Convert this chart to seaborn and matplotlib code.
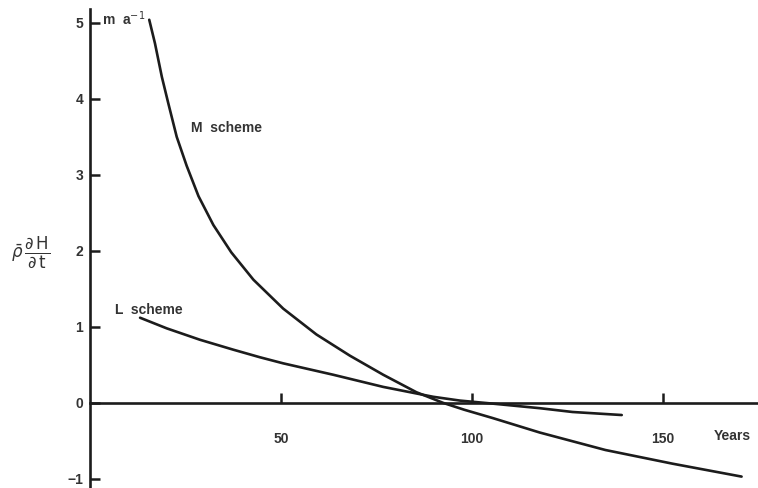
import matplotlib
matplotlib.use("Agg")
import matplotlib.pyplot as plt
import seaborn as sns
import pandas as pd

# Data
m_years = [15.5, 17.0, 18.8, 20.5, 22.7, 25.3, 28.4, 32.3, 37.0, 42.8, 50.6, 59.3, 68.1, 76.8, 85.5, 92.5,
           98.0, 105.5, 117.8, 135.0, 152.6, 170.7]
m_rate = [5.04, 4.73, 4.29, 3.94, 3.50, 3.12, 2.72, 2.34, 1.98, 1.62, 1.24, 0.90, 0.62, 0.37, 0.14, 0.0,
          -0.09, -0.2, -0.39, -0.62, -0.8, -0.97]
l_years = [13.1, 20.1, 28.8, 37.5, 44.5, 50.6, 63.7, 76.8, 89.9, 96.9, 105.5, 117.8, 126.4, 139.3]
l_rate = [1.12, 0.98, 0.83, 0.70, 0.60, 0.52, 0.37, 0.21, 0.08, 0.03, -0.01, -0.07, -0.12, -0.16]
x_ticks = [50, 100, 150]
y_ticks = [-1, 0, 1, 2, 3, 4, 5]

df = pd.concat([
    pd.DataFrame({"Years": m_years, "rate": m_rate, "scheme": "M scheme"}),
    pd.DataFrame({"Years": l_years, "rate": l_rate, "scheme": "L scheme"}),
])

sns.set_style("white")
plt.rcParams["font.family"] = ["Liberation Sans", "DejaVu Sans"]

fig = plt.figure(figsize=(7.58, 4.88), dpi=100)
ax = fig.add_axes([0, 0, 1, 1])
sns.lineplot(data=df, x="Years", y="rate", units="scheme", estimator=None,
             sort=False, color="#1c1c1c", linewidth=1.9, ax=ax, legend=False)
for ln in ax.lines:
    ln.set_solid_joinstyle("round")
    ln.set_solid_capstyle("round")

ax.set_xlim(-23.6, 175)
ax.set_ylim(-1.12, 5.3)
for s in ["top", "right"]:
    ax.spines[s].set_visible(False)
ax.spines["left"].set_position(("data", 0))
ax.spines["bottom"].set_position(("data", 0))
ax.spines["left"].set_bounds(-1.12, 5.18)
ax.spines["bottom"].set_bounds(0, 175)
for s in ["left", "bottom"]:
    ax.spines[s].set_linewidth(1.9)
    ax.spines[s].set_color("#1c1c1c")

ax.set_xticks(x_ticks)
ax.set_yticks(y_ticks)
ax.set_xticklabels([str(v) for v in x_ticks], fontsize=10, fontweight="bold", color="#333333")
ax.set_yticklabels(["\u22121" if v < 0 else str(v) for v in y_ticks], fontsize=10, fontweight="bold", color="#333333")
ax.tick_params(axis="y", left=True, direction="in", length=7, width=1.8, color="#1c1c1c", pad=5)
ax.tick_params(axis="x", bottom=True, direction="in", length=7, width=1.8, color="#1c1c1c", pad=21)
ax.set_xlabel("")
ax.set_ylabel("")

ax.text(3.0, 5.05, r"m  a$^{-1}$", fontsize=10, fontweight="bold", color="#333333", va="center", ha="left")
ax.text(26.5, 3.62, "M  scheme", fontsize=10, fontweight="bold", color="#333333", va="center", ha="left")
ax.text(6.5, 1.22, "L  scheme", fontsize=10, fontweight="bold", color="#333333", va="center", ha="left")
ax.text(163.5, -0.44, "Years", fontsize=10, fontweight="bold", color="#333333", va="center", ha="left")
ax.text(-15.5, 1.98, r"$\bar{\rho}\,\dfrac{\partial\,\mathrm{H}}{\partial\,\mathrm{t}}$", fontsize=12,
        color="#333333", va="center", ha="center")

fig.savefig("out.png", dpi=100)
